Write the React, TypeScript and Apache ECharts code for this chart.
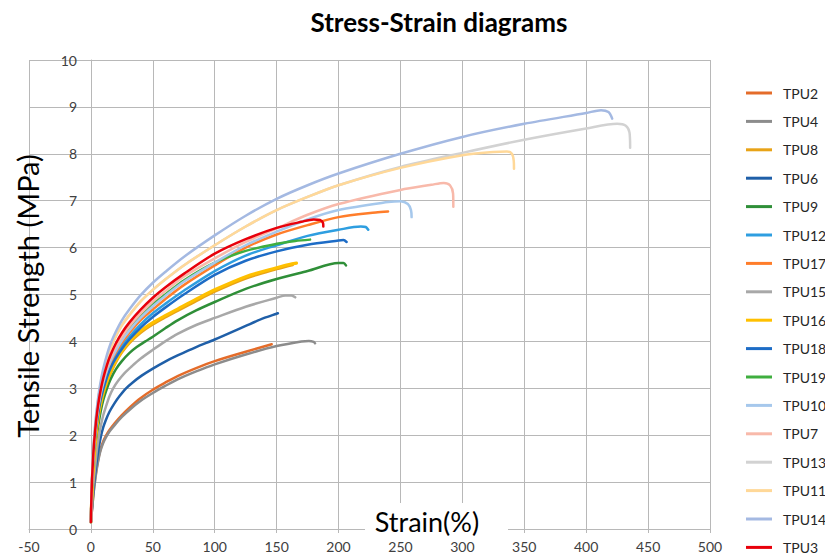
import React, { useEffect, useRef } from "react";
import * as echarts from "echarts";

type Pt = [number, number];

// [strain %, stress MPa]
const TPU2: Pt[] = [[0,0.15],[1,0.45],[2,0.74],[3,0.98],[4,1.18],[5,1.35],[6.5,1.56],[8,1.72],[10,1.87],[12,1.98],[15,2.11],[19,2.25],[25,2.43],[32,2.61],[40,2.79],[50,2.97],[60,3.12],[70,3.26],[85,3.43],[100,3.58],[125,3.78],[146,3.94]];
const TPU4: Pt[] = [[0,0.15],[1,0.44],[2,0.72],[3,0.95],[4,1.15],[5,1.32],[6.5,1.53],[8,1.69],[10,1.84],[12,1.95],[15,2.08],[19,2.21],[25,2.39],[32,2.56],[40,2.73],[50,2.9],[60,3.05],[70,3.19],[85,3.36],[100,3.51],[125,3.72],[150,3.9],[170,4.0],[176,4.01],[180,3.99],[181,3.96]];
const TPU8: Pt[] = [[0,0.15],[1,0.83],[2,1.3],[3,1.65],[4,1.93],[5,2.16],[6.5,2.44],[8,2.64],[10,2.86],[13,3.11],[16,3.32],[20,3.54],[25,3.76],[31,3.96],[40,4.18],[50,4.36],[60,4.51],[70,4.65],[85,4.86],[100,5.06],[125,5.34],[150,5.54],[163,5.63]];
const TPU6: Pt[] = [[0,0.15],[1,0.5],[2,0.82],[3,1.08],[4,1.3],[5,1.5],[6.5,1.76],[8,1.97],[10,2.17],[12,2.32],[15,2.5],[19,2.68],[23,2.83],[28,2.99],[34,3.13],[41,3.27],[50,3.42],[60,3.57],[70,3.7],[85,3.88],[100,4.04],[125,4.33],[140,4.5],[150,4.59],[151,4.6]];
const TPU9: Pt[] = [[0,0.15],[1,0.72],[2,1.15],[3,1.5],[4,1.78],[5,2.02],[6.5,2.3],[8,2.52],[10,2.75],[13,3.0],[16,3.2],[20,3.4],[25,3.58],[31,3.75],[37,3.88],[44,4.0],[50,4.1],[60,4.28],[70,4.45],[85,4.66],[100,4.84],[125,5.12],[150,5.33],[175,5.5],[200,5.67],[204,5.67],[206,5.62]];
const TPU12: Pt[] = [[0,0.15],[0.5,0.7],[1,1.03],[2,1.53],[3,1.86],[4,2.12],[5,2.34],[6.5,2.6],[8,2.81],[10,3.03],[13,3.29],[16,3.5],[20,3.7],[25,3.9],[31,4.1],[40,4.36],[50,4.6],[60,4.8],[75,5.08],[100,5.5],[125,5.83],[150,6.05],[175,6.25],[200,6.38],[218,6.45],[222,6.44],[224,6.38]];
const TPU17: Pt[] = [[0,0.15],[0.5,0.71],[1,1.05],[2,1.55],[3,1.89],[4,2.16],[5,2.38],[6.5,2.64],[8,2.86],[10,3.08],[13,3.34],[16,3.55],[20,3.76],[25,3.97],[31,4.18],[40,4.45],[50,4.68],[60,4.9],[75,5.2],[100,5.62],[125,6.0],[150,6.28],[175,6.48],[200,6.65],[230,6.75],[240,6.77]];
const TPU15: Pt[] = [[0,0.15],[1,0.58],[2,0.95],[3,1.22],[4,1.48],[5,1.72],[6.5,1.98],[8,2.2],[10,2.43],[12,2.6],[15,2.83],[18,3.0],[22,3.16],[27,3.32],[33,3.47],[40,3.63],[50,3.82],[60,4.0],[70,4.16],[85,4.35],[100,4.5],[125,4.74],[150,4.93],[157,4.98],[162,4.98],[165,4.94]];
const TPU16: Pt[] = [[0,0.15],[1,0.85],[2,1.32],[3,1.68],[4,1.97],[5,2.2],[6.5,2.48],[8,2.68],[10,2.9],[13,3.15],[16,3.36],[20,3.58],[25,3.8],[31,4.0],[40,4.22],[50,4.4],[60,4.55],[70,4.69],[85,4.9],[100,5.1],[125,5.38],[150,5.57],[160,5.64],[166,5.67]];
const TPU18: Pt[] = [[0,0.15],[0.5,0.68],[1,1.01],[2,1.5],[3,1.83],[4,2.09],[5,2.3],[6.5,2.56],[8,2.77],[10,2.98],[13,3.24],[16,3.44],[20,3.64],[25,3.84],[31,4.04],[40,4.29],[50,4.52],[60,4.72],[75,5.0],[100,5.42],[125,5.72],[150,5.92],[175,6.06],[200,6.15],[204,6.16],[206.5,6.12]];
const TPU19: Pt[] = [[0,0.15],[0.5,0.73],[1,1.07],[2,1.58],[3,1.93],[4,2.2],[5,2.43],[6.5,2.7],[8,2.92],[10,3.15],[13,3.42],[16,3.63],[20,3.85],[25,4.07],[31,4.28],[40,4.55],[50,4.8],[60,5.0],[75,5.3],[100,5.68],[125,5.93],[150,6.08],[165,6.14],[177,6.17]];
const TPU10: Pt[] = [[0,0.15],[0.5,0.72],[1,1.06],[2,1.57],[3,1.91],[4,2.18],[5,2.4],[6.5,2.67],[8,2.89],[10,3.11],[13,3.38],[16,3.59],[20,3.8],[25,4.02],[31,4.23],[40,4.5],[50,4.75],[60,4.97],[75,5.27],[100,5.68],[125,6.05],[150,6.34],[175,6.6],[200,6.8],[240,6.97],[250,6.99],[256,6.93],[258.5,6.8],[259,6.65]];
const TPU7: Pt[] = [[0,0.15],[0.5,0.74],[1,1.08],[2,1.6],[3,1.95],[4,2.23],[5,2.46],[6.5,2.73],[8,2.95],[10,3.18],[13,3.45],[16,3.66],[20,3.88],[25,4.1],[31,4.32],[40,4.59],[50,4.85],[60,5.07],[75,5.38],[100,5.77],[125,6.12],[150,6.41],[175,6.7],[200,6.93],[250,7.23],[275,7.34],[285,7.38],[290,7.33],[292.5,7.15],[292.7,6.87]];
const TPU13: Pt[] = [[0,0.15],[0.5,0.78],[1,1.13],[2,1.67],[3,2.04],[4,2.33],[5,2.57],[6.5,2.86],[8,3.1],[10,3.35],[13,3.64],[16,3.87],[20,4.1],[25,4.34],[31,4.56],[40,4.85],[50,5.1],[60,5.32],[75,5.62],[100,6.05],[125,6.45],[150,6.8],[175,7.08],[200,7.33],[250,7.72],[300,8.02],[350,8.3],[400,8.54],[425,8.64],[432,8.6],[435,8.45],[435.5,8.13]];
const TPU11: Pt[] = [[0,0.15],[0.5,0.78],[1,1.13],[2,1.67],[3,2.04],[4,2.33],[5,2.57],[6.5,2.86],[8,3.1],[10,3.35],[13,3.64],[16,3.87],[20,4.1],[25,4.34],[31,4.56],[40,4.85],[50,5.1],[60,5.32],[75,5.62],[100,6.05],[125,6.45],[150,6.8],[175,7.08],[200,7.33],[250,7.7],[300,7.97],[325,8.04],[336,8.05],[340,8.0],[341.5,7.85],[341.7,7.68]];
const TPU14: Pt[] = [[0,0.15],[0.5,0.8],[1,1.15],[2,1.7],[3,2.08],[4,2.38],[5,2.62],[6.5,2.92],[8,3.16],[10,3.42],[13,3.72],[16,3.96],[20,4.2],[25,4.45],[31,4.68],[40,4.98],[50,5.25],[60,5.48],[75,5.8],[100,6.26],[125,6.68],[150,7.04],[175,7.33],[200,7.58],[250,8.0],[300,8.36],[350,8.64],[400,8.87],[412,8.93],[418,8.89],[421,8.75]];
const TPU3: Pt[] = [[0,0.15],[0.5,0.75],[1,1.1],[2,1.62],[3,1.97],[4,2.25],[5,2.48],[6.5,2.76],[8,2.98],[10,3.22],[13,3.5],[16,3.72],[20,3.95],[25,4.18],[31,4.4],[40,4.67],[50,4.93],[60,5.15],[75,5.44],[100,5.87],[125,6.18],[150,6.42],[170,6.55],[180,6.6],[185,6.59],[187.5,6.52],[187.7,6.45]];

const seriesNames = ["TPU2","TPU4","TPU8","TPU6","TPU9","TPU12","TPU17","TPU15","TPU16","TPU18","TPU19","TPU10","TPU7","TPU13","TPU11","TPU14","TPU3"];
const seriesData: Pt[][] = [TPU2,TPU4,TPU8,TPU6,TPU9,TPU12,TPU17,TPU15,TPU16,TPU18,TPU19,TPU10,TPU7,TPU13,TPU11,TPU14,TPU3];
const seriesColors = ["#E46C2A","#8C8C8C","#E8A317","#1F5FA8","#2F8F38","#2E9EE0","#FF7D2A","#A8A8A8","#FFC000","#1D6CC6","#3FAE3F","#A6C8EC","#F8B9AA","#D2D2D2","#FFD898","#A4B9E2","#E8000B"];

const titleText = "Stress-Strain diagrams";
const xTitle = "Strain(%)";
const yTitle = "Tensile Strength (MPa)";

const FONT = "Lato, 'Liberation Sans', sans-serif";
const GRID = "#b8b8b8";

export default function App() {
  const ref = useRef<HTMLDivElement>(null);
  useEffect(() => {
    const chart = echarts.init(ref.current!, null, { renderer: "svg" });
    chart.setOption({
      animation: false,
      backgroundColor: "#ffffff",
      textStyle: { fontFamily: FONT },
      title: {
        text: titleText,
        left: 439,
        top: 9,
        padding: 0,
        textAlign: "center",
        textStyle: { fontFamily: FONT, fontSize: 26, fontWeight: "bold", color: "#000" },
      },
      legend: {
        data: seriesNames,
        orient: "vertical",
        left: 746,
        top: 85,
        padding: 0,
        icon: "rect",
        itemWidth: 26,
        itemHeight: 3,
        itemGap: 12.4,
        textStyle: { fontFamily: FONT, fontSize: 14, color: "#262626", lineHeight: 16, padding: [0, 0, 0, 6] },
      },
      grid: { left: 29, top: 60, width: 681, height: 469, outerBoundsMode: "none" },
      xAxis: {
        type: "value",
        min: -50,
        max: 500,
        interval: 50,
        axisLine: { show: true, onZero: true, lineStyle: { color: GRID, width: 1 } },
        axisTick: { show: true, length: 4, lineStyle: { color: GRID } },
        axisLabel: { color: "#404040", fontSize: 14, margin: 10, fontFamily: FONT },
        splitLine: { show: true, lineStyle: { color: GRID, width: 1 } },
      },
      yAxis: {
        type: "value",
        min: 0,
        max: 10,
        interval: 1,
        offset: -62,
        axisLine: { show: true, onZero: false, lineStyle: { color: GRID, width: 1 } },
        axisTick: { show: true, length: 4, lineStyle: { color: GRID } },
        axisLabel: { color: "#404040", fontSize: 14, margin: 14, fontFamily: FONT },
        splitLine: { show: true, lineStyle: { color: GRID, width: 1 } },
      },
      graphic: [
        { type: "rect", z: 100, shape: { x: 365, y: 503, width: 143, height: 33 }, style: { fill: "#ffffff" } },
        { type: "text", z: 101, x: 427, y: 521, style: { text: xTitle, align: "center", verticalAlign: "middle", lineHeight: 20, font: `27px ${FONT}`, fill: "#000" } },
        { type: "text", z: 101, x: 27, y: 296, rotation: Math.PI / 2, style: { text: yTitle, align: "center", verticalAlign: "middle", font: `29px ${FONT}`, fill: "#000" } },
      ],
      series: seriesNames.map((name, i) => ({
        name,
        type: "line",
        data: seriesData[i],
        symbol: "none",
        smooth: 0.3,
        clip: true,
        emphasis: { disabled: true },
        lineStyle: { width: name === "TPU16" ? 3.2 : 2.5, color: seriesColors[i], cap: "round", join: "round" },
        itemStyle: { color: seriesColors[i] },
      })),
    });
    return () => chart.dispose();
  }, []);
  return <div ref={ref} style={{ position: "absolute", left: 0, top: 0, width: 825, height: 556, background: "#fff" }} />;
}
